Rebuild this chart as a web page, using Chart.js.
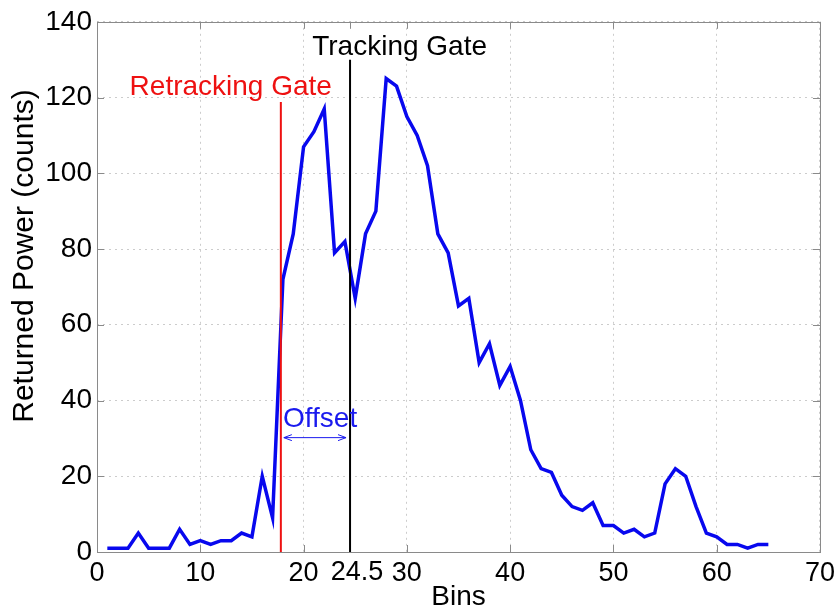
<!DOCTYPE html>
<html>
<head>
<meta charset="utf-8">
<script src="https://cdn.jsdelivr.net/npm/chart.js@4.4.1/dist/chart.umd.min.js"></script>
<style>
  html, body { margin: 0; padding: 0; background: #fff; }
  #wrap { width: 840px; height: 614px; }
</style>
</head>
<body>
<div id="wrap"><canvas id="waveform" width="840" height="614"></canvas></div>
<script>
// waveform samples, one per range bin
const bins = [];
for (let i = 1; i <= 65; i++) bins.push(i);
const power = [
  1, 1, 1, 5, 1, 1, 1, 6, 2, 3,
  2, 3, 3, 5, 4, 20, 9, 72, 84, 107,
  111, 117, 79, 82, 67, 84, 90, 125, 123, 115,
  110, 102, 84, 79, 65, 67, 50, 55, 44, 49,
  40, 27, 22, 21, 15, 12, 11, 13, 7, 7,
  5, 6, 4, 5, 18, 22, 20, 12, 5, 4,
  2, 2, 1, 2, 2
];
const xTicks = [0, 10, 20, 24.5, 30, 40, 50, 60, 70];
const yTicks = [0, 20, 40, 60, 80, 100, 120, 140];

// gate positions (bins) and marker heights (counts)
const retrackGate = 17.8;
const trackGate = 24.5;
const retrackTop = 118.8;
const trackTop = 130;

const FONT = "'Liberation Sans', Arial, Helvetica, sans-serif";
const TICK_SIZE = 27;

const gatePlugin = {
  id: 'gates',
  afterDatasetsDraw(chart) {
    const { ctx, chartArea: a, scales: { x, y } } = chart;
    ctx.save();

    // box and inward tick marks
    ctx.strokeStyle = '#8a8a8a';
    ctx.lineWidth = 1;
    ctx.strokeRect(Math.round(a.left) + 0.5, Math.round(a.top) + 0.5,
      Math.round(a.right - a.left), Math.round(a.bottom - a.top));
    ctx.beginPath();
    xTicks.forEach(v => {
      const px = Math.round(x.getPixelForValue(v)) + 0.5;
      ctx.moveTo(px, a.bottom); ctx.lineTo(px, a.bottom - 7);
      ctx.moveTo(px, a.top); ctx.lineTo(px, a.top + 7);
    });
    yTicks.forEach(v => {
      const py = Math.round(y.getPixelForValue(v)) + 0.5;
      ctx.moveTo(a.left, py); ctx.lineTo(a.left + 7, py);
      ctx.moveTo(a.right, py); ctx.lineTo(a.right - 7, py);
    });
    ctx.stroke();

    // retracking gate
    const rx = x.getPixelForValue(retrackGate);
    ctx.strokeStyle = '#ee1111';
    ctx.lineWidth = 2;
    ctx.beginPath();
    ctx.moveTo(rx, y.getPixelForValue(retrackTop));
    ctx.lineTo(rx, a.bottom);
    ctx.stroke();

    // tracking gate
    const tx = x.getPixelForValue(trackGate);
    ctx.strokeStyle = '#000';
    ctx.beginPath();
    ctx.moveTo(tx, y.getPixelForValue(trackTop));
    ctx.lineTo(tx, a.bottom);
    ctx.stroke();

    ctx.textAlign = 'center';
    ctx.textBaseline = 'middle';

    // the 24.5 tick label sits just right of its tick so it clears "20"
    ctx.fillStyle = '#000';
    ctx.font = TICK_SIZE + 'px ' + FONT;
    ctx.fillText('24.5', tx + 7, a.bottom + 21);

    ctx.font = '28px ' + FONT;
    ctx.fillStyle = '#ee1111';
    ctx.fillText('Retracking Gate', x.getPixelForValue(12.95), y.getPixelForValue(122.6));
    ctx.fillStyle = '#000';
    ctx.fillText('Tracking Gate', x.getPixelForValue(29.3), y.getPixelForValue(133.4));

    // offset arrow between the gates
    ctx.fillStyle = '#1a1aee';
    ctx.fillText('Offset', x.getPixelForValue(21.6), y.getPixelForValue(35.0));
    const ay = y.getPixelForValue(30.2);
    const x1 = rx + 3, x2 = tx - 4;
    ctx.strokeStyle = '#1a1aee';
    ctx.lineWidth = 1;
    ctx.beginPath();
    ctx.moveTo(x1, ay); ctx.lineTo(x2, ay);
    ctx.moveTo(x1 + 8, ay - 3); ctx.lineTo(x1, ay); ctx.lineTo(x1 + 8, ay + 3);
    ctx.moveTo(x2 - 8, ay - 3); ctx.lineTo(x2, ay); ctx.lineTo(x2 - 8, ay + 3);
    ctx.stroke();

    // y axis title, set a little above the axis centre
    ctx.save();
    ctx.translate(25, 256);
    ctx.rotate(-Math.PI / 2);
    ctx.fillStyle = '#000';
    ctx.font = '30px ' + FONT;
    ctx.fillText('Returned Power (counts)', 0, 0);
    ctx.restore();

    ctx.restore();
  }
};

new Chart(document.getElementById('waveform'), {
  type: 'line',
  data: {
    datasets: [{
      data: bins.map((b, i) => ({ x: b, y: power[i] })),
      borderColor: '#0808ee',
      borderWidth: 3.5,
      pointRadius: 0,
      tension: 0,
      fill: false
    }]
  },
  options: {
    responsive: false,
    animation: false,
    layout: { padding: { top: 19, right: 18, left: 0, bottom: 0 } },
    plugins: { legend: { display: false }, tooltip: { enabled: false } },
    scales: {
      x: {
        type: 'linear',
        min: 0, max: 70,
        afterBuildTicks: s => { s.ticks = xTicks.map(v => ({ value: v })); },
        afterFit: s => { s.height = 62; },
        border: { display: false, dash: [2, 4] },
        grid: {
          drawTicks: false,
          color: c => (c.tick && c.tick.value === 24.5) ? 'rgba(0,0,0,0)' : '#cccccc',
          lineWidth: 1
        },
        ticks: {
          autoSkip: false,
          maxRotation: 0,
          padding: 5,
          color: '#000',
          font: { family: FONT, size: TICK_SIZE },
          callback: v => (v === 24.5 ? '' : String(v))
        },
        title: {
          display: true, text: 'Bins', color: '#000',
          font: { family: FONT, size: 28 },
          padding: { top: 0, bottom: 0 }
        }
      },
      y: {
        min: 0, max: 140,
        afterBuildTicks: s => { s.ticks = yTicks.map(v => ({ value: v })); },
        afterFit: s => { s.width = 97; },
        border: { display: false, dash: [2, 4] },
        grid: { drawTicks: false, color: '#cccccc', lineWidth: 1 },
        ticks: {
          padding: 5,
          color: '#000',
          font: { family: FONT, size: 28 }
        },
        title: { display: false }
      }
    }
  },
  plugins: [gatePlugin]
});
</script>
</body>
</html>
